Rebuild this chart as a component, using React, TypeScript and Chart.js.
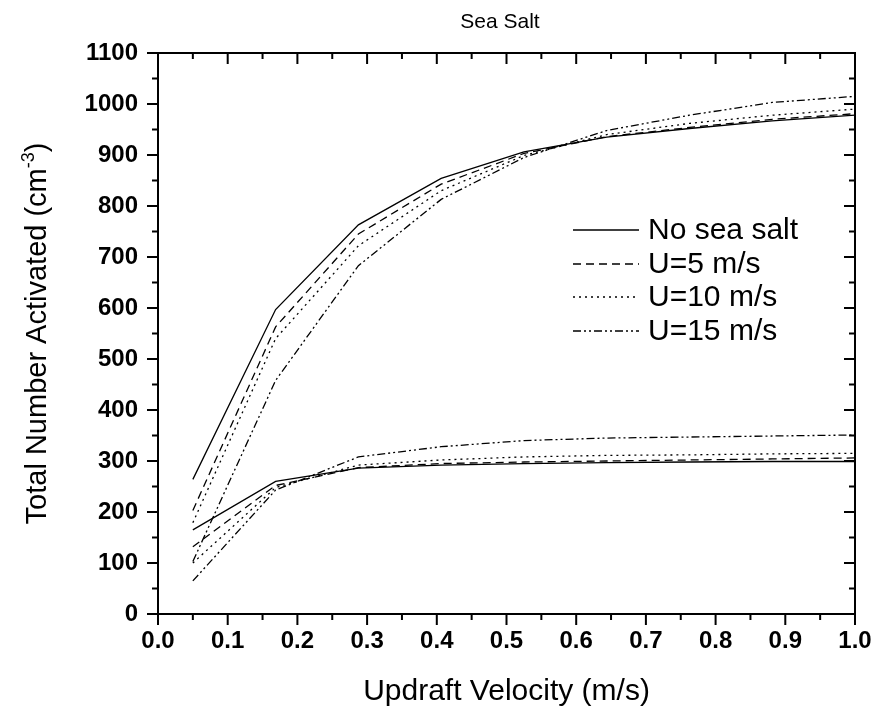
import React, { useEffect, useRef } from "react";
import { Chart, registerables } from "chart.js";

Chart.register(...registerables);

const FONT = '"Liberation Sans", Arial, sans-serif';

// Data
const xValues = [0.05, 0.16875, 0.2875, 0.40625, 0.525, 0.64375, 0.7625, 0.88125, 1.0];
const upperNoSalt = [264, 597, 763, 854, 906, 935, 952, 967, 978];
const upperU5 = [203, 563, 745, 843, 903, 936, 954, 970, 981];
const upperU10 = [179, 540, 722, 830, 899, 940, 962, 978, 990];
const upperU15 = [103, 458, 683, 813, 895, 948, 978, 1003, 1015];
const lowerNoSalt = [165, 260, 286, 292, 295, 297, 298, 299, 299];
const lowerU5 = [132, 252, 287, 295, 298, 300, 302, 304, 306];
const lowerU10 = [100, 248, 292, 302, 308, 311, 312, 314, 315];
const lowerU15 = [65, 243, 308, 328, 340, 345, 347, 349, 351];

const seriesLabels = ["No sea salt", "U=5 m/s", "U=10 m/s", "U=15 m/s"];
const seriesDashes: number[][] = [[], [8, 5], [2, 4], [8, 3, 2, 3, 2, 3]];

const chartTitle = "Sea Salt";
const xTitle = "Updraft Velocity (m/s)";
const yTitleMain = "Total Number Activated (cm";
const yTitleSup = "-3";
const yTitleEnd = ")";

const toPoints = (ys: number[]) => xValues.map((x, i) => ({ x, y: ys[i] }));

const framePlugin = {
  id: "framePlugin",
  afterDraw(chart: any) {
    const { ctx, chartArea, scales } = chart;
    const { left, right, top, bottom } = chartArea;
    const xs = scales.x;
    const ys = scales.y;
    ctx.save();
    ctx.strokeStyle = "#000";
    ctx.fillStyle = "#000";
    ctx.lineWidth = 2;
    ctx.strokeRect(left, top, right - left, bottom - top);
    const major = 11;
    const minor = 6;
    ctx.beginPath();
    for (let i = 0; i <= 20; i++) {
      const px = xs.getPixelForValue(i * 0.05);
      const len = i % 2 === 0 ? major : minor;
      ctx.moveTo(px, bottom);
      ctx.lineTo(px, bottom + len);
      ctx.moveTo(px, top);
      ctx.lineTo(px, top + len);
    }
    for (let i = 0; i <= 22; i++) {
      const py = ys.getPixelForValue(i * 50);
      const len = i % 2 === 0 ? major : minor;
      ctx.moveTo(left, py);
      ctx.lineTo(left - len, py);
      ctx.moveTo(right, py);
      ctx.lineTo(right - len, py);
    }
    ctx.stroke();

    // Title
    ctx.font = `21px ${FONT}`;
    ctx.textAlign = "center";
    ctx.textBaseline = "middle";
    ctx.fillText(chartTitle, 500, 22);

    // Y title with superscript
    ctx.save();
    ctx.translate(36, (top + bottom) / 2);
    ctx.rotate(-Math.PI / 2);
    const mainFont = `29px ${FONT}`;
    const supFont = `18px ${FONT}`;
    ctx.font = mainFont;
    const w1 = ctx.measureText(yTitleMain).width;
    const w3 = ctx.measureText(yTitleEnd).width;
    ctx.font = supFont;
    const w2 = ctx.measureText(yTitleSup).width;
    const total = w1 + w2 + w3;
    let cx = -total / 2;
    ctx.textAlign = "left";
    ctx.textBaseline = "alphabetic";
    const base = 10;
    ctx.font = mainFont;
    ctx.fillText(yTitleMain, cx, base);
    cx += w1;
    ctx.font = supFont;
    ctx.fillText(yTitleSup, cx, base - 12);
    cx += w2;
    ctx.font = mainFont;
    ctx.fillText(yTitleEnd, cx, base);
    ctx.restore();

    // Legend
    const rowsY = [230, 264, 297, 331];
    ctx.font = `30px ${FONT}`;
    ctx.textAlign = "left";
    ctx.textBaseline = "middle";
    for (let i = 0; i < seriesLabels.length; i++) {
      const ds = chart.data.datasets[i];
      ctx.save();
      ctx.lineWidth = ds.borderWidth;
      ctx.setLineDash(ds.borderDash || []);
      ctx.beginPath();
      ctx.moveTo(573, rowsY[i]);
      ctx.lineTo(639, rowsY[i]);
      ctx.stroke();
      ctx.restore();
      ctx.fillText(seriesLabels[i], 648, rowsY[i] + 1);
    }
    ctx.restore();
  },
};

export default function App() {
  const canvasRef = useRef<HTMLCanvasElement>(null);

  useEffect(() => {
    document.body.style.margin = "0";
    const canvas = canvasRef.current;
    if (!canvas) return;
    const upper = [upperNoSalt, upperU5, upperU10, upperU15];
    const lower = [lowerNoSalt, lowerU5, lowerU10, lowerU15];
    const datasets: any[] = [];
    upper.forEach((ys, i) =>
      datasets.push({
        label: seriesLabels[i],
        data: toPoints(ys),
        borderColor: "#000",
        borderWidth: 1.3,
        borderDash: seriesDashes[i],
        pointRadius: 0,
        fill: false,
        tension: 0,
      })
    );
    lower.forEach((ys, i) =>
      datasets.push({
        label: seriesLabels[i] + " (low)",
        data: toPoints(ys),
        borderColor: "#000",
        borderWidth: 1.3,
        borderDash: seriesDashes[i],
        pointRadius: 0,
        fill: false,
        tension: 0,
      })
    );

    const chart = new Chart(canvas, {
      type: "line",
      data: { datasets },
      options: {
        responsive: false,
        animation: false,
        layout: { padding: { left: 0, right: 23, top: 53, bottom: 0 } },
        plugins: { legend: { display: false }, tooltip: { enabled: false }, title: { display: false } },
        scales: {
          x: {
            type: "linear",
            min: 0,
            max: 1,
            grid: { display: false, drawTicks: false },
            border: { display: false },
            ticks: {
              stepSize: 0.1,
              autoSkip: false,
              maxRotation: 0,
              padding: 13,
              color: "#000",
              font: { family: FONT, size: 24, weight: "bold" },
              callback: (v: any) => Number(v).toFixed(1),
            },
            title: {
              display: true,
              text: xTitle,
              color: "#000",
              font: { family: FONT, size: 30 },
              padding: { top: 0, bottom: 5 },
            },
            afterFit: (s: any) => {
              s.height = 101;
              s.paddingLeft = 0;
              s.paddingRight = 0;
            },
          },
          y: {
            type: "linear",
            min: 0,
            max: 1100,
            grid: { display: false, drawTicks: false },
            border: { display: false },
            ticks: {
              stepSize: 100,
              padding: 20,
              color: "#000",
              font: { family: FONT, size: 24, weight: "bold" },
              callback: (v: any) => String(v),
            },
            afterFit: (s: any) => {
              s.width = 158;
              s.paddingTop = 0;
              s.paddingBottom = 0;
            },
          },
        },
      },
      plugins: [framePlugin],
    });
    return () => chart.destroy();
  }, []);

  return (
    <div style={{ width: 878, height: 715 }}>
      <canvas ref={canvasRef} width={878} height={715} style={{ display: "block" }} />
    </div>
  );
}
